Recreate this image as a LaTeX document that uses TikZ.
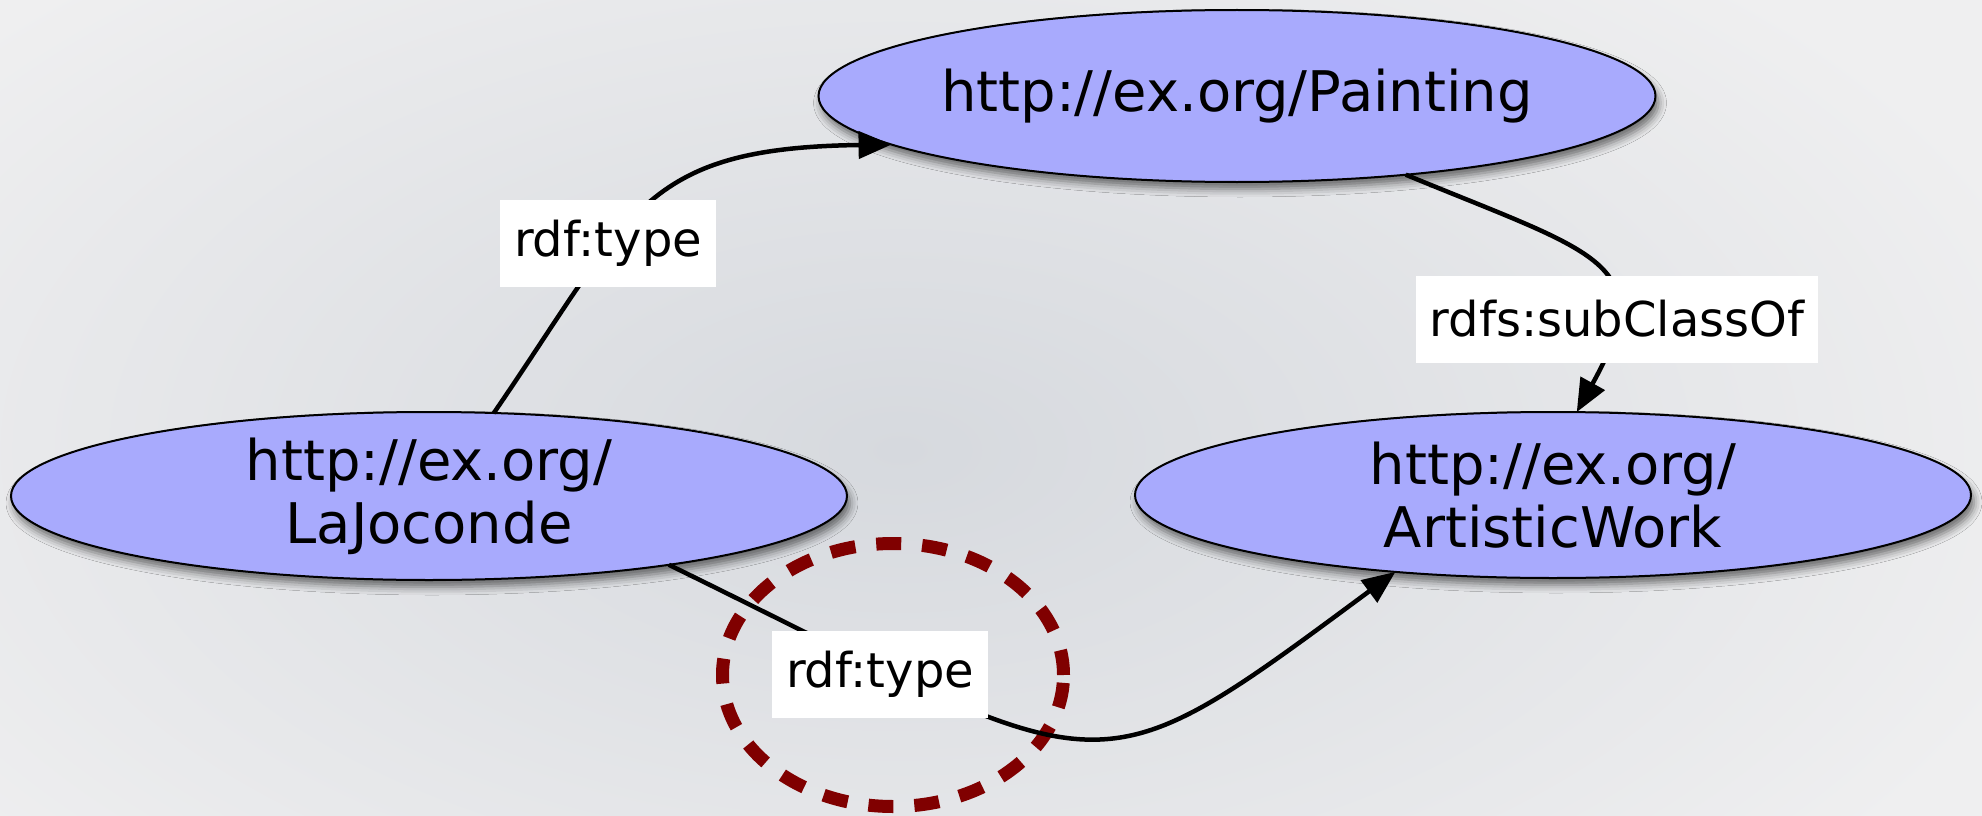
\documentclass[tikz,border=0pt]{standalone}
\usepackage{fontspec}
\setmainfont{DejaVu Sans}
\usetikzlibrary{shapes.geometric,arrows.meta,shadows.blur}
\definecolor{nodefill}{RGB}{168,170,253}
\definecolor{hlred}{RGB}{128,0,0}
\definecolor{bgl}{RGB}{239,239,240}
\definecolor{bgm}{RGB}{214,217,222}
\begin{document}
\begin{tikzpicture}[x=1pt,y=-1pt,
  res/.style={ellipse, draw=black, line width=2pt, fill=nodefill, inner sep=0pt, outer sep=0pt,
    align=center, font=\fontsize{56}{63}\selectfont,
    blur shadow={shadow xshift=3pt, shadow yshift=-7pt, shadow blur radius=8pt, shadow opacity=55}},
  lbl/.style={fill=white, inner xsep=14pt, inner ysep=0pt, minimum height=87pt, font=\fontsize{48}{56}\selectfont},
  rel/.style={line width=4.5pt, -{Triangle[length=33pt,width=27pt]}},
  hlring/.style={ellipse, draw=hlred, line width=13pt, dash pattern=on 25pt off 21pt, inner sep=0pt,
    minimum width=341pt, minimum height=263pt}
]
\useasboundingbox (0,0) rectangle (1982,816);
% background
\fill[bgl] (0,0) rectangle (1982,816);
\shade[inner color=bgm, outer color=bgl] (-300,-200) rectangle (2100,1100);

% resources
\node[res, minimum width=834pt, minimum height=172pt] (p) at (1237,96) {http://ex.org/Painting};
\node[res, minimum width=836pt, minimum height=168pt] (lj) at (429,496) {http://ex.org/\\LaJoconde};
\node[res, minimum width=836pt, minimum height=166pt] (aw) at (1553,495) {http://ex.org/\\ArtisticWork};

% highlight
\node[hlring] (hl) at (893,675) {};

% relations
\draw[rel] (lj.52) .. controls (631,213) and (640,148) .. (p.188.5);
\draw[rel] (p.-25) .. controls (1600,255) and (1660,262) .. (aw.74);
\draw[rel] (lj.-16.5) .. controls (1115,783) and (1083,803) .. (aw.206);

% labels
\node[lbl] (l1) at (608,243) {rdf:type};
\node[lbl] (l2) at (1617,319) {rdfs:subClassOf};
\node[lbl] (l3) at (880,674) {rdf:type};
\end{tikzpicture}
\end{document}
